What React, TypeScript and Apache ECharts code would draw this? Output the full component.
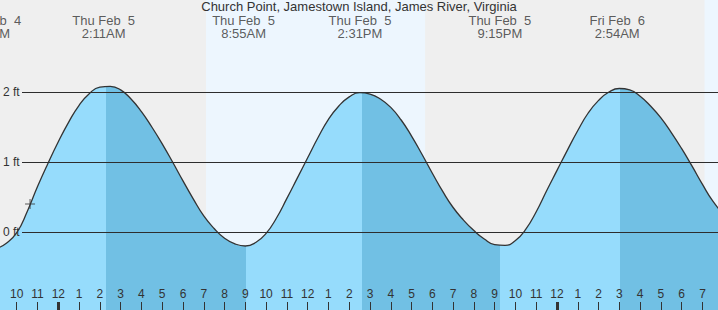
import React, { useEffect, useRef } from "react";
import * as echarts from "echarts";

// Hours measured from midnight, Thu Feb 5 (half-hour readings)
const hours = [
  -3, -2.5, -2, -1.5, -1, -0.5, 0, 0.5, 1, 1.5, 2, 2.5, 3, 3.5, 4, 4.5, 5, 5.5, 6, 6.5, 7, 7.5, 8, 8.5,
  9, 9.5, 10, 10.5, 11, 11.5, 12, 12.5, 13, 13.5, 14, 14.5, 15, 15.5, 16, 16.5, 17, 17.5, 18, 18.5,
  19, 19.5, 20, 20.5, 21, 21.5, 22, 22.5, 23, 23.5, 24, 24.5, 25, 25.5, 26, 26.5, 27, 27.5, 28, 28.5,
  29, 29.5, 30, 30.5, 31, 31.5, 32,
];
const tideFt = [
  -0.24, -0.16, -0.01, 0.29, 0.65, 0.98, 1.29, 1.57, 1.81, 1.98, 2.07, 2.08, 2.03, 1.90, 1.72, 1.50, 1.26, 1.00, 0.73, 0.47, 0.23, 0.05, -0.09, -0.17,
  -0.20, -0.15, -0.02, 0.20, 0.48, 0.77, 1.06, 1.35, 1.61, 1.80, 1.93, 1.99, 1.97, 1.90, 1.78, 1.60, 1.37, 1.11, 0.84, 0.58,
  0.35, 0.17, 0.02, -0.10, -0.18, -0.19, -0.12, 0.04, 0.29, 0.59, 0.88, 1.17, 1.45, 1.70, 1.88, 2.00, 2.05, 2.03, 1.94, 1.80,
  1.63, 1.42, 1.19, 0.94, 0.68, 0.44, 0.26,
];

// Tide extremes (labels at top)
const extremeHours = [-3.4, 2.183, 8.917, 14.517, 21.25, 26.9];
const extremeDates = ["Wed Feb  4", "Thu Feb  5", "Thu Feb  5", "Thu Feb  5", "Thu Feb  5", "Fri Feb  6"];
const extremeTimes = ["8:36PM", "2:11AM", "8:55AM", "2:31PM", "9:15PM", "2:54AM"];

// Hours at which fill switches between rising (light) and falling (dark)
const fillSwitchHours = [2.3, 9.03, 14.62, 21.26, 27.03];

// Daylight spans [sunrise, sunset]
const daylight = [[7.11, 17.65], [31.1, 40]];

// Hour ticks
const tickHours = [-2,-1,0,1,2,3,4,5,6,7,8,9,10,11,12,13,14,15,16,17,18,19,20,21,22,23,24,25,26,27,28,29,30,31];
const midnightHours = [0, 24];

// y-axis labels
const ftTicks = [0, 1, 2];

// current-time marker
const nowMarker = [[-1.36, 0.40]];

const X_MIN = -2.806;
const X_MAX = 31.747;
const Y_MIN = -1.1143;
const Y_MAX = 3.3143;

const LIGHT = "#96dcfc";
const DARK = "#71c0e4";
const TXT = "#333333";
const FONT = "'Liberation Sans', Arial, sans-serif";

export default function App() {
  const ref = useRef<HTMLDivElement>(null);
  useEffect(() => {
    const chart = echarts.init(ref.current!, undefined, { renderer: "svg" });
    const lineData = hours.map((h, i) => [h, tideFt[i]]);

    const pieces: any[] = [];
    fillSwitchHours.forEach((s, i) => {
      const p: any = { lt: s, color: i % 2 === 0 ? LIGHT : DARK };
      if (i > 0) p.gte = fillSwitchHours[i - 1];
      pieces.push(p);
    });
    pieces.push({
      gte: fillSwitchHours[fillSwitchHours.length - 1],
      color: fillSwitchHours.length % 2 === 0 ? LIGHT : DARK,
    });

    const gridStart = -1.747;

    const option: any = {
      animation: false,
      backgroundColor: "#efefef",
      textStyle: { fontFamily: FONT },
      title: {
        text: "Church Point, Jamestown Island, James River, Virginia",
        left: "center",
        top: 0,
        padding: 0,
        textStyle: { fontSize: 13, fontWeight: "normal", color: TXT, fontFamily: FONT },
      },
      grid: { left: 0, right: 0, top: 0, bottom: 0, containLabel: false },
      visualMap: {
        show: false,
        type: "piecewise",
        dimension: 0,
        seriesIndex: 2,
        pieces,
      },
      xAxis: [
        {
          type: "value",
          min: X_MIN,
          max: X_MAX,
          position: "bottom",
          axisLine: { show: false, onZero: false },
          splitLine: { show: false },
          axisTick: {
            show: true,
            inside: true,
            length: 8,
            customValues: tickHours,
            lineStyle: { color: TXT, width: 1 },
          },
          axisLabel: {
            show: true,
            inside: true,
            margin: 10,
            customValues: tickHours,
            fontSize: 12,
            color: TXT,
            fontFamily: FONT,
            formatter: (v: number) => {
              const m = ((Math.round(v) % 12) + 12) % 12;
              return String(m === 0 ? 12 : m);
            },
          },
          z: 10,
        },
        {
          type: "value",
          min: X_MIN,
          max: X_MAX,
          position: "bottom",
          axisLine: { show: false, onZero: false },
          splitLine: { show: false },
          axisLabel: { show: false },
          axisTick: {
            show: true,
            inside: true,
            length: 8,
            customValues: midnightHours,
            lineStyle: { color: TXT, width: 3 },
          },
          z: 10,
        },
      ],
      yAxis: {
        type: "value",
        min: Y_MIN,
        max: Y_MAX,
        axisLine: { show: false },
        axisTick: { show: false },
        splitLine: { show: false },
        axisLabel: {
          show: true,
          inside: true,
          margin: 3,
          customValues: ftTicks,
          fontSize: 12,
          color: TXT,
          fontFamily: FONT,
          formatter: (v: number) => `${v} ft`,
        },
        z: 10,
      },
      series: [
        {
          name: "daylight",
          type: "line",
          data: [],
          z: 0,
          silent: true,
          markArea: {
            silent: true,
            itemStyle: { color: "#edf6fe" },
            data: daylight.map((d) => [{ xAxis: d[0] }, { xAxis: d[1] }]),
          },
        },
        {
          name: "gridDark",
          type: "line",
          data: [],
          z: 1,
          silent: true,
          markLine: {
            silent: true,
            symbol: ["none", "none"],
            label: { show: false },
            lineStyle: { color: "#333", width: 1.2, type: "solid" },
            data: ftTicks.map((v) => [{ coord: [gridStart, v] }, { coord: [X_MAX, v] }]),
          },
        },
        {
          name: "fill",
          type: "line",
          data: lineData,
          smooth: 0.5,
          showSymbol: false,
          symbol: "none",
          z: 2,
          lineStyle: { width: 0, opacity: 0 },
          areaStyle: { opacity: 1, origin: "start" },
          silent: true,
        },
        {
          name: "gridFaint",
          type: "line",
          data: [],
          z: 3,
          silent: true,
          markLine: {
            silent: true,
            symbol: ["none", "none"],
            label: { show: false },
            lineStyle: { color: "rgba(0,0,0,0.1)", width: 1.2, type: "solid" },
            data: ftTicks.map((v) => [{ coord: [gridStart, v] }, { coord: [X_MAX, v] }]),
          },
        },
        {
          name: "tide",
          type: "line",
          data: lineData,
          smooth: 0.5,
          showSymbol: false,
          symbol: "none",
          z: 4,
          lineStyle: { color: "#333", width: 1.3 },
          silent: true,
        },
        {
          name: "now",
          type: "scatter",
          data: nowMarker,
          z: 5,
          symbol: "path://M4.5,0h1v4.5h4.5v1h-4.5v4.5h-1v-4.5h-4.5v-1h4.5z",
          symbolSize: 10,
          itemStyle: { color: "#333" },
          silent: true,
        },
        {
          name: "extremes",
          type: "scatter",
          z: 6,
          symbolSize: 0,
          silent: true,
          clip: false,
          data: extremeHours.map((h) => [h, 2.93]),
          label: {
            show: true,
            position: "inside",
            fontSize: 13,
            lineHeight: 13,
            color: TXT,
            fontFamily: FONT,
            align: "center",
            verticalAlign: "middle",
            formatter: (p: any) => `${extremeDates[p.dataIndex]}\n${extremeTimes[p.dataIndex]}`,
          },
        },
      ],
    };
    chart.setOption(option);
    return () => chart.dispose();
  }, []);
  return <div ref={ref} style={{ width: 718, height: 310, position: "absolute", left: 0, top: 0 }} />;
}
